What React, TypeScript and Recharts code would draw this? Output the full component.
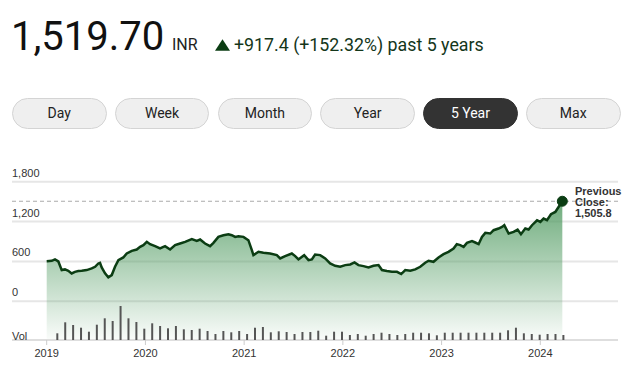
import React from 'react'
import {
  ComposedChart,
  BarChart,
  Area,
  Bar,
  XAxis,
  YAxis,
  CartesianGrid,
  ReferenceLine,
  ReferenceDot,
} from 'recharts'

// price path, years after 2019-01-01 and close (INR)
const PRICE_T = [
  0.0, 0.051, 0.084, 0.118, 0.152, 0.185, 0.219, 0.253, 0.286, 0.32, 0.355, 0.405, 0.456, 0.49,
  0.523, 0.54, 0.557, 0.591, 0.624, 0.659, 0.692, 0.726, 0.776, 0.811, 0.862, 0.912, 0.946, 0.979,
  1.014, 1.047, 1.098, 1.148, 1.199, 1.25, 1.301, 1.351, 1.402, 1.47, 1.52, 1.554, 1.604, 1.655,
  1.689, 1.739, 1.79, 1.841, 1.875, 1.909, 1.942, 1.993, 2.043, 2.078, 2.094, 2.145, 2.195, 2.263,
  2.331, 2.365, 2.415, 2.483, 2.517, 2.55, 2.608, 2.652, 2.686, 2.719, 2.77, 2.821, 2.871, 2.922,
  2.973, 3.024, 3.074, 3.118, 3.158, 3.209, 3.26, 3.31, 3.361, 3.396, 3.446, 3.497, 3.548, 3.591,
  3.632, 3.683, 3.733, 3.784, 3.834, 3.868, 3.918, 3.969, 4.02, 4.07, 4.121, 4.154, 4.189, 4.223,
  4.257, 4.308, 4.341, 4.375, 4.409, 4.443, 4.493, 4.527, 4.577, 4.612, 4.635, 4.679, 4.73, 4.77,
  4.804, 4.848, 4.881, 4.916, 4.967, 5.0, 5.033, 5.068, 5.108, 5.152, 5.185, 5.223,
]
const PRICE_V = [
  602.3, 609, 630, 600, 470, 480, 460, 420, 444, 455, 460, 470, 495, 520,
  570, 580, 510, 420, 360, 395, 520, 620, 660, 720, 760, 780, 820, 845,
  895, 860, 830, 795, 830, 780, 845, 870, 895, 935, 910, 930, 870, 830,
  880, 970, 995, 1010, 995, 970, 980, 970, 920, 770, 695, 745, 730, 720,
  695, 645, 680, 720, 680, 630, 695, 620, 630, 705, 695, 645, 570, 535,
  520, 545, 555, 585, 545, 530, 510, 535, 545, 470, 455, 444, 444, 410,
  470, 460, 480, 520, 580, 610, 595, 660, 710, 745, 795, 860, 845, 820,
  880, 905, 885, 860, 970, 1030, 1020, 1070, 1095, 1120, 1145, 1020, 1045, 1080,
  1010, 1095, 1080, 1145, 1220, 1195, 1245, 1220, 1310, 1345, 1420, 1505.8,
]

// volume bars (relative), roughly monthly
const VOL_START = 2019.107
const VOL_STEP = 0.0801
const VOL = [
  6.7, 17.7, 15, 12.3, 8.3, 15.3, 21.7, 19, 34, 21.7, 18, 11.3, 16.7, 14, 11.7, 14, 10.7,
  10, 11.3, 9, 6, 9, 7.7, 9, 6, 12.3, 13, 7.7, 8.7, 8, 6, 8, 8, 9.3, 4.3,
  8.3, 8.3, 5, 6, 4.3, 6, 7.3, 6, 5, 6, 7.3, 7.3, 6.7, 4.7, 7.3, 7.3, 7.3, 7.3,
  7.3, 7.3, 7.3, 7.3, 9.7, 12.3, 6.7, 6, 5.3, 6, 6, 5,
]

const YEARS = [2019, 2020, 2021, 2022, 2023, 2024]
const PRICE_TICKS = [0, 600, 1200, 1800]
const PREV_CLOSE = 1505.8
const RANGES = ['Day', 'Week', 'Month', 'Year', '5 Year', 'Max']

const X_DOMAIN = [2018.6485, 2024.787]
const priceData = PRICE_T.map((t, i) => ({ t: 2019 + t, price: PRICE_V[i] }))
const volData = VOL.map((v, i) => ({ t: VOL_START + i * VOL_STEP, vol: v }))

const axisFont = '"Liberation Sans", Arial, sans-serif'

function PriceTick(props: any) {
  const { y, payload } = props
  return (
    <text x={12} y={y - 5} fontSize={11} fontFamily={axisFont} fill="#333" textAnchor="start">
      {Number(payload.value).toLocaleString('en-US')}
    </text>
  )
}

export default function App() {
  return (
    <div
      style={{
        position: 'absolute',
        left: 0,
        top: 0,
        width: 644,
        height: 373,
        background: '#fff',
        overflow: 'hidden',
        fontFamily: 'Roboto, sans-serif',
      }}
    >
      <div style={{ position: 'absolute', left: 11, top: 17, fontSize: 40, lineHeight: '40px', color: '#111' }}>
        1,519.70
      </div>
      <div style={{ position: 'absolute', left: 172, top: 37, fontSize: 16, lineHeight: '16px', color: '#222' }}>
        INR
      </div>
      <svg style={{ position: 'absolute', left: 0, top: 0 }} width={644} height={60}>
        <polygon points="215,50.7 222.5,39.3 230,50.7" fill="#0b3d13" />
      </svg>
      <div
        style={{ position: 'absolute', left: 234, top: 36, fontSize: 17.8, lineHeight: '17.8px', color: '#14361a' }}
      >
        +917.4 (+152.32%) past 5 years
      </div>

      {RANGES.map((r, i) => {
        const active = r === '5 Year'
        return (
          <div
            key={r}
            style={{
              position: 'absolute',
              left: 12 + i * 102.8,
              top: 98,
              width: 94.5,
              height: 31,
              boxSizing: 'border-box',
              borderRadius: 16,
              border: active ? '1px solid #333' : '1px solid #d4d4d4',
              background: active ? '#333' : '#efefef',
              color: active ? '#fff' : '#222',
              fontSize: 14,
              lineHeight: '29px',
              textAlign: 'center',
            }}
          >
            {r}
          </div>
        )
      })}

      <div style={{ position: 'absolute', left: 0, top: 160 }}>
        <ComposedChart width={644} height={213} data={priceData} margin={{ top: 21.7, right: 26, bottom: 3, left: 11 }}>
          <defs>
            <linearGradient id="priceFill" x1="0" y1="0" x2="0" y2="1">
              <stop offset="0%" stopColor="#4f9a60" stopOpacity={0.82} />
              <stop offset="100%" stopColor="#4f9a60" stopOpacity={0.03} />
            </linearGradient>
          </defs>
          <CartesianGrid yAxisId="price" vertical={false} stroke="#e6e6e6" strokeWidth={2} />
          <XAxis
            dataKey="t"
            type="number"
            domain={X_DOMAIN}
            allowDataOverflow
            ticks={YEARS}
            tickFormatter={(v) => String(v)}
            height={30}
            tickSize={5}
            tickMargin={4}
            axisLine={{ stroke: '#dedede', strokeWidth: 2 }}
            tickLine={{ stroke: '#ccc' }}
            tick={{ fontSize: 11, fontFamily: axisFont, fill: '#333' }}
          />
          <YAxis
            yAxisId="price"
            domain={[-582, 1800]}
            ticks={PRICE_TICKS}
            allowDataOverflow
            interval={0}
            width={1}
            axisLine={false}
            tickLine={false}
            tick={(p: any) => <PriceTick {...p} />}
          />
          <ReferenceLine yAxisId="price" y={PREV_CLOSE} stroke="#aaa" strokeDasharray="4 3" />
          <Area
            yAxisId="price"
            dataKey="price"
            type="linear"
            baseValue="dataMin"
            stroke="#0b3d13"
            strokeWidth={2.5}
            fill="url(#priceFill)"
            fillOpacity={1}
            dot={false}
            activeDot={false}
            isAnimationActive={false}
          />
          <ReferenceDot
            yAxisId="price"
            x={2019 + PRICE_T[PRICE_T.length - 1]}
            y={PREV_CLOSE}
            r={5}
            fill="#0b3d13"
            stroke="#0b3d13"
          />
        </ComposedChart>
      </div>

      <div style={{ position: 'absolute', left: 0, top: 160 }}>
        <BarChart width={644} height={213} data={volData} margin={{ top: 21.7, right: 26, bottom: 33, left: 12 }}>
          <XAxis dataKey="t" type="number" domain={X_DOMAIN} allowDataOverflow hide />
          <YAxis hide domain={[0, 158.3]} allowDataOverflow />
          <Bar dataKey="vol" fill="#555" barSize={2} isAnimationActive={false} />
        </BarChart>
      </div>

      <div
        style={{
          position: 'absolute',
          left: 12,
          top: 330,
          fontSize: 11,
          lineHeight: '12px',
          fontFamily: axisFont,
          color: '#333',
        }}
      >
        Vol
      </div>
      <div
        style={{
          position: 'absolute',
          left: 575,
          top: 186,
          fontSize: 11,
          lineHeight: '10.8px',
          fontFamily: axisFont,
          fontWeight: 'bold',
          color: '#333',
        }}
      >
        Previous
        <br />
        Close:
        <br />
        1,505.8
      </div>
    </div>
  )
}
